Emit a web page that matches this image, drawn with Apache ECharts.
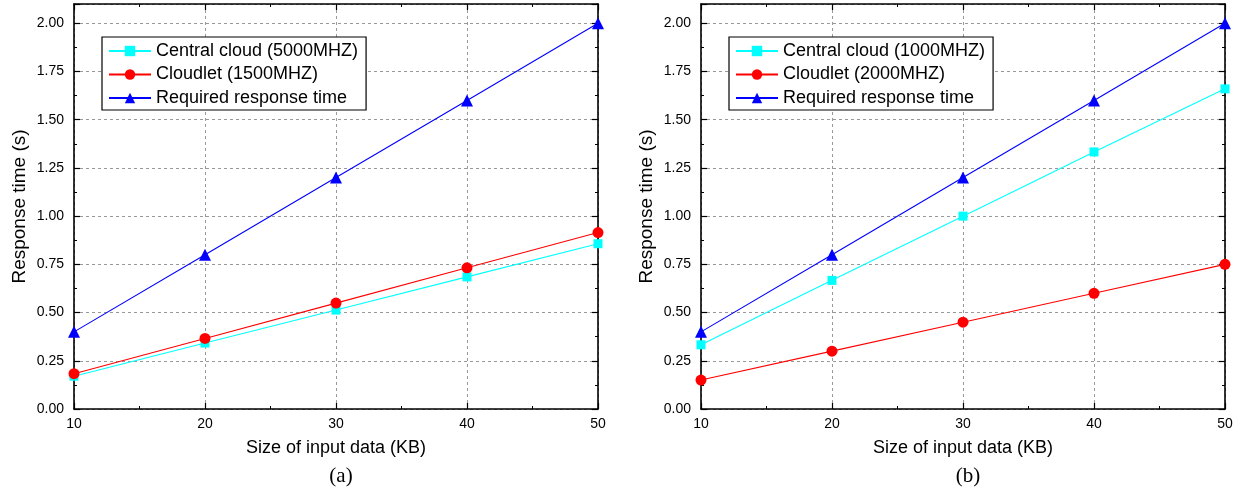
<!DOCTYPE html>
<html>
<head>
<meta charset="utf-8">
<script src="https://cdn.jsdelivr.net/npm/echarts@6/dist/echarts.min.js"></script>
<style>html,body{margin:0;padding:0;background:#fff}#c{width:1242px;height:488px}</style>
</head>
<body>
<div id="c"></div>
<script>
const xValues = [10, 20, 30, 40, 50];
const yTicks = ['0.00','0.25','0.50','0.75','1.00','1.25','1.50','1.75','2.00'];
// Panel (a)
const aCentralName = 'Central cloud (5000MHZ)';
const aCloudletName = 'Cloudlet (1500MHZ)';
const aCentral = [0.170, 0.342, 0.513, 0.685, 0.857];
const aCloudlet = [0.183, 0.366, 0.549, 0.732, 0.915];
const aRequired = [0.40, 0.80, 1.20, 1.60, 2.00];
// Panel (b)
const bCentralName = 'Central cloud (1000MHZ)';
const bCloudletName = 'Cloudlet (2000MHZ)';
const bCentral = [0.333, 0.667, 1.000, 1.333, 1.660];
const bCloudlet = [0.150, 0.300, 0.450, 0.600, 0.750];
const bRequired = [0.40, 0.80, 1.20, 1.60, 2.00];
const requiredName = 'Required response time';
const xName = 'Size of input data (KB)';
const yName = 'Response time (s)';
const captions = ['(a)', '(b)'];

const font = 'Liberation Sans, Arial, sans-serif';
const serif = 'Liberation Serif, Times New Roman, serif';
const grids = [
  {left: 74, top: 4, width: 524, height: 405},
  {left: 701, top: 4, width: 524, height: 405}
];
const axisLine = {show: true, onZero: false, lineStyle: {color: '#000', width: 1.6}};
const splitLine = {show: true, lineStyle: {color: '#999', type: [3, 3], width: 1}};
const tick = {inside: true, length: 6, lineStyle: {color: '#000', width: 1.2}};
const minor = {show: true, splitNumber: 2, length: 3, lineStyle: {color: '#000', width: 1}};

function xAxes(gi) {
  return [
    {gridIndex: gi, type: 'value', min: 10, max: 50, interval: 10, position: 'bottom',
     axisLine, axisTick: tick, minorTick: minor,
     axisLabel: {color: '#000', fontSize: 14, fontFamily: font, margin: 8},
     splitLine,
     name: xName, nameLocation: 'middle', nameGap: 30,
     nameTextStyle: {color: '#000', fontSize: 18, fontFamily: font}},
    {gridIndex: gi, type: 'value', min: 10, max: 50, interval: 10, position: 'top',
     axisLine, axisTick: tick, minorTick: minor,
     axisLabel: {show: false}, splitLine: {show: false}}
  ];
}
function fmtY(v) {
  const k = Math.round(v / 0.25);
  if (Math.abs(k * 0.25 - v) > 1e-6 || k < 0 || k >= yTicks.length) return '';
  return yTicks[k];
}
function yAxes(gi) {
  return [
    {gridIndex: gi, type: 'value', min: 0, max: 2.1, interval: 0.25, position: 'left',
     axisLine, axisTick: tick, minorTick: minor,
     axisLabel: {color: '#000', fontSize: 14, fontFamily: font, margin: 10, formatter: fmtY, showMaxLabel: false},
     splitLine,
     name: yName, nameLocation: 'middle', nameGap: 45,
     nameTextStyle: {color: '#000', fontSize: 19, fontFamily: font}},
    {gridIndex: gi, type: 'value', min: 0, max: 2.1, interval: 0.25, position: 'right',
     axisLine, axisTick: tick, minorTick: minor,
     axisLabel: {show: false}, splitLine: {show: false}}
  ];
}
function pairs(vals) { return xValues.map((x, i) => [x, vals[i]]); }
function ser(name, vals, gi, color, symbol, size) {
  return {name, type: 'line', xAxisIndex: gi * 2, yAxisIndex: gi * 2, data: pairs(vals),
    symbol, symbolSize: size, showSymbol: true, clip: false, z: 3,
    lineStyle: {color, width: 1.1}, itemStyle: {color}, animation: false};
}
const legendBase = {orient: 'vertical', top: 37, itemWidth: 42, itemHeight: 13, itemGap: 5.5,
  padding: [5, 8, 3, 6], borderColor: '#000', borderWidth: 1.2, backgroundColor: '#fff',
  textStyle: {color: '#000', fontSize: 18, fontFamily: font}, selectedMode: false};

const chart = echarts.init(document.getElementById('c'));
chart.setOption({
  animation: false,
  backgroundColor: '#fff',
  grid: grids,
  xAxis: [...xAxes(0), ...xAxes(1)],
  yAxis: [...yAxes(0), ...yAxes(1)],
  legend: [
    Object.assign({}, legendBase, {left: 102, data: [aCentralName, aCloudletName, requiredName]}),
    Object.assign({}, legendBase, {left: 729, data: [bCentralName, bCloudletName, requiredName]})
  ],
  title: [
    {text: captions[0], left: 336, top: 461, textAlign: 'center', textStyle: {fontFamily: serif, fontWeight: 'normal', fontSize: 21, color: '#000'}},
    {text: captions[1], left: 963, top: 461, textAlign: 'center', textStyle: {fontFamily: serif, fontWeight: 'normal', fontSize: 21, color: '#000'}}
  ],
  series: [
    ser(aCentralName, aCentral, 0, '#00FFFF', 'rect', 9),
    ser(aCloudletName, aCloudlet, 0, '#FF0000', 'circle', 11),
    ser(requiredName, aRequired, 0, '#0000FF', 'triangle', 12),
    ser(bCentralName, bCentral, 1, '#00FFFF', 'rect', 9),
    ser(bCloudletName, bCloudlet, 1, '#FF0000', 'circle', 11),
    ser(requiredName, bRequired, 1, '#0000FF', 'triangle', 12)
  ]
});
</script>
</body>
</html>
